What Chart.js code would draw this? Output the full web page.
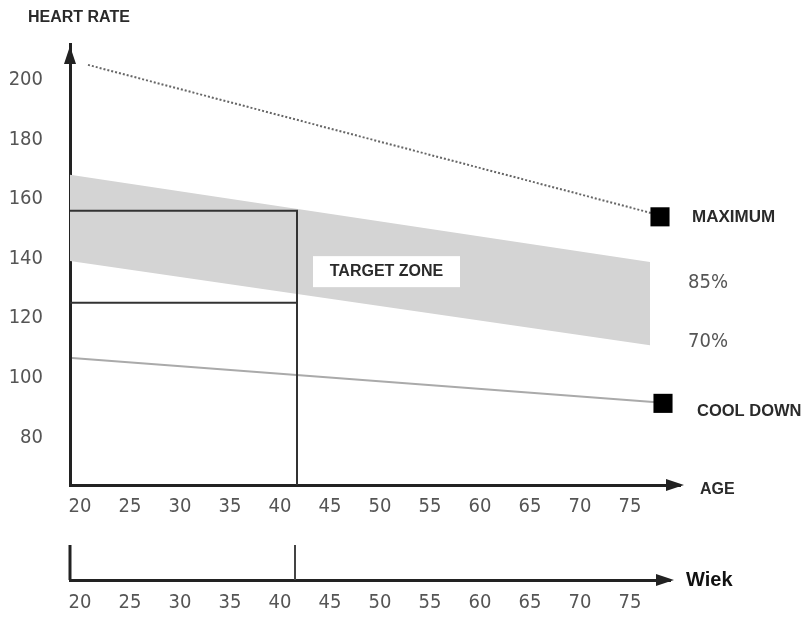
<!DOCTYPE html>
<html><head><meta charset="utf-8">
<script src="https://cdn.jsdelivr.net/npm/chart.js@4.4.0/dist/chart.umd.min.js"></script>
<style>
html,body{margin:0;padding:0;background:#fff;}
#w1{position:absolute;left:0;top:0;width:809px;height:530px;}
#w2{position:absolute;left:0;top:530px;width:809px;height:87px;}
</style>
</head><body>
<div id="w1"><canvas id="c1"></canvas></div>
<div id="w2"><canvas id="c2"></canvas></div>
<script>
// ---- data ----
const ageTicks = [20,25,30,35,40,45,50,55,60,65,70,75];
const hrTicks = [80,100,120,140,160,180,200];
const maxAge = [20.8, 78];
const maxHR = [205, 154.5];
const zoneAge = [19, 77];
const zone85 = [168.1, 138.8];
const zone70 = [139.2, 110.9];
const coolAge = [19.2, 78.3];
const coolHR = [106.6, 91.6];
const markerAge = [78, 78.3];
const markerHR = [154, 91.4];
const refAge = 41.7;
const refTopHR = 156;
const refMidHR = 125.2;
const lowerAxisMarks = [19, 41.5];

const TICKFONT = "'Liberation Sans Narrow','DejaVu Sans Condensed','Arial Narrow',sans-serif";
const BOLDFONT = "'Liberation Sans','Arial',sans-serif";
const pts = (xs, ys) => xs.map((x,i)=>({x, y: ys[i]}));

const decor1 = {
  id:'decor1',
  afterDatasetsDraw(chart){
    const ctx = chart.ctx, a = chart.chartArea, xs = chart.scales.x, ys = chart.scales.y;
    ctx.save();
    ctx.fillStyle = '#222';
    ctx.beginPath();
    ctx.moveTo(a.left, a.top + 2); ctx.lineTo(a.left - 6, a.top + 20); ctx.lineTo(a.left + 6, a.top + 20); ctx.closePath(); ctx.fill();
    ctx.beginPath();
    ctx.moveTo(a.right + 4, a.bottom); ctx.lineTo(a.right - 14, a.bottom - 6); ctx.lineTo(a.right - 14, a.bottom + 6); ctx.closePath(); ctx.fill();
    const bx1 = xs.getPixelForValue(43.3), bx2 = xs.getPixelForValue(58);
    const by1 = ys.getPixelForValue(140.8), by2 = ys.getPixelForValue(130.4);
    ctx.fillStyle = '#fff';
    ctx.fillRect(bx1, by1, bx2-bx1, by2-by1);
    ctx.fillStyle = '#2a2a2a';
    ctx.font = "bold 16px " + BOLDFONT;
    ctx.textBaseline = 'middle';
    ctx.textAlign = 'center';
    ctx.fillText('TARGET ZONE', (bx1+bx2)/2, (by1+by2)/2);
    ctx.textAlign = 'left';
    ctx.fillText('HEART RATE', 28, 18);
    ctx.fillText('AGE', a.right + 20, a.bottom + 5);
    ctx.font = "bold 17px " + BOLDFONT;
    ctx.fillText('MAXIMUM', 692, ys.getPixelForValue(markerHR[0]));
    ctx.font = "bold 16.5px " + BOLDFONT;
    ctx.fillText('COOL DOWN', 697, ys.getPixelForValue(markerHR[1]) + 8);
    ctx.fillStyle = '#555';
    ctx.font = "20px " + TICKFONT;
    ctx.fillText('85%', 688, ys.getPixelForValue(131.8));
    ctx.fillText('70%', 688, ys.getPixelForValue(112));
    ctx.restore();
  }
};

const decor2 = {
  id:'decor2',
  afterDatasetsDraw(chart){
    const ctx = chart.ctx, a = chart.chartArea;
    ctx.save();
    ctx.fillStyle = '#222';
    ctx.beginPath();
    ctx.moveTo(a.right + 4, a.bottom); ctx.lineTo(a.right - 14, a.bottom - 6); ctx.lineTo(a.right - 14, a.bottom + 6); ctx.closePath(); ctx.fill();
    ctx.fillStyle = '#111';
    ctx.font = "bold 20px " + BOLDFONT;
    ctx.textBaseline = 'middle';
    ctx.textAlign = 'left';
    ctx.fillText('Wiek', 686, a.bottom);
    ctx.restore();
  }
};

Chart.defaults.animation = false;

new Chart(document.getElementById('c1'), {
  type:'line',
  data:{ datasets:[
    {data: pts([markerAge[0]],[markerHR[0]]), pointStyle:'rect', pointRadius:13.5, backgroundColor:'#000', borderColor:'#000', borderWidth:0, showLine:false},
    {data: pts([markerAge[1]],[markerHR[1]]), pointStyle:'rect', pointRadius:13.5, backgroundColor:'#000', borderColor:'#000', borderWidth:0, showLine:false},
    {data: [{x:zoneAge[0], y:refTopHR},{x:refAge, y:refTopHR},{x:refAge, y:64}], borderColor:'#333', borderWidth:2, pointRadius:0, fill:false},
    {data: [{x:zoneAge[0], y:refMidHR},{x:refAge, y:refMidHR}], borderColor:'#333', borderWidth:2, pointRadius:0, fill:false},
    {data: pts(maxAge, maxHR), borderColor:'#666', borderWidth:2, borderDash:[2,2], pointRadius:0, fill:false},
    {data: pts(coolAge, coolHR), borderColor:'#aaa', borderWidth:2, pointRadius:0, fill:false},
    {data: pts(zoneAge, zone85), borderWidth:0, borderColor:'rgba(0,0,0,0)', pointRadius:0, fill:'+1', backgroundColor:'#d4d4d4'},
    {data: pts(zoneAge, zone70), borderWidth:0, borderColor:'rgba(0,0,0,0)', pointRadius:0, fill:false}
  ]},
  options:{
    responsive:true, maintainAspectRatio:false, devicePixelRatio:1,
    layout:{padding:{left:0, right:129, top:44, bottom:0}},
    plugins:{legend:{display:false}, tooltip:{enabled:false}},
    scales:{
      x:{type:'linear', min:19, max:80,
        afterBuildTicks:s=>{s.ticks = ageTicks.map(v=>({value:v}));},
        afterFit:s=>{s.height = 45;},
        grid:{display:false, drawTicks:false},
        border:{display:true, color:'#222', width:3},
        ticks:{padding:10, color:'#555', font:{family:TICKFONT, size:20}, maxRotation:0, autoSkip:false}
      },
      y:{type:'linear', min:64, max:212,
        afterBuildTicks:s=>{s.ticks = hrTicks.map(v=>({value:v}));},
        afterFit:s=>{s.width = 70;},
        grid:{display:false, drawTicks:false},
        border:{display:true, color:'#222', width:3},
        ticks:{padding:27, color:'#555', font:{family:TICKFONT, size:20}}
      }
    }
  },
  plugins:[decor1]
});

new Chart(document.getElementById('c2'), {
  type:'line',
  data:{ datasets:[
    {data:[{x:lowerAxisMarks[0],y:0},{x:lowerAxisMarks[0],y:1}], borderColor:'#222', borderWidth:3, pointRadius:0, clip:false},
    {data:[{x:lowerAxisMarks[1],y:0},{x:lowerAxisMarks[1],y:1}], borderColor:'#444', borderWidth:2, pointRadius:0, clip:false}
  ]},
  options:{
    responsive:true, maintainAspectRatio:false, devicePixelRatio:1,
    layout:{padding:{left:70, right:139, top:15, bottom:0}},
    plugins:{legend:{display:false}, tooltip:{enabled:false}},
    scales:{
      x:{type:'linear', min:19, max:79,
        afterBuildTicks:s=>{s.ticks = ageTicks.map(v=>({value:v}));},
        afterFit:s=>{s.height = 37;},
        grid:{display:false, drawTicks:false},
        border:{display:true, color:'#222', width:3},
        ticks:{padding:11, color:'#555', font:{family:TICKFONT, size:20}, maxRotation:0, autoSkip:false}
      },
      y:{type:'linear', min:0, max:1, display:false}
    }
  },
  plugins:[decor2]
});
</script>
</body></html>
